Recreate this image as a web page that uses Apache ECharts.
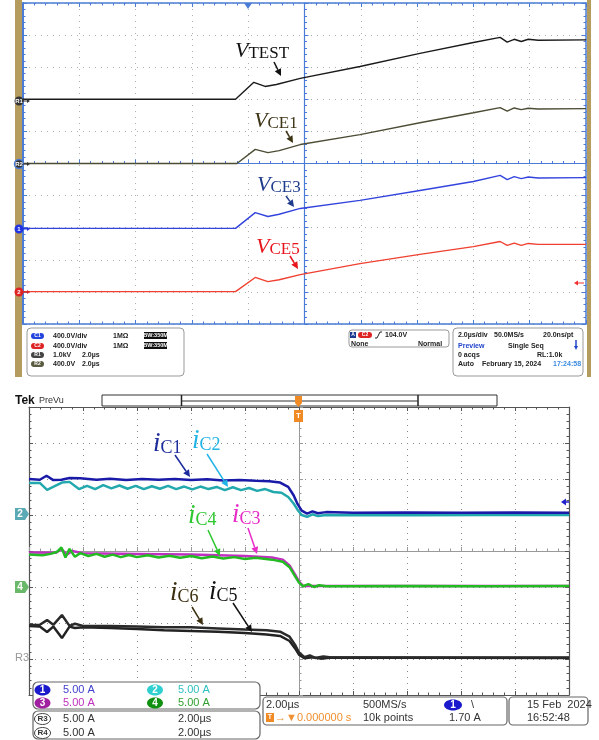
<!DOCTYPE html>
<html>
<head>
<meta charset="utf-8">
<script src="https://cdn.jsdelivr.net/npm/echarts/dist/echarts.min.js"></script>
<style>
  html, body { margin: 0; padding: 0; background: #fff; }
  #main { width: 599px; height: 740px; }
</style>
</head>
<body>
<div id="main"></div>
<script>
// traces: [time in us, position in divisions]
var vTest = [[-10, 2.0], [-6, 2.0], [-2.45, 2.0], [-1.8, 2.53], [-1.4, 2.4], [-1.0, 2.46], [-0.15, 2.65], [1.97, 3.02], [4.1, 3.43], [6.0, 3.77], [6.95, 3.93], [7.2, 3.78], [7.45, 3.87], [7.7, 3.80], [7.95, 3.87], [8.3, 3.84], [10, 3.85]];
var vCE1 = [[-10, 0], [-2.4, 0], [-1.75, 0.44], [-1.3, 0.34], [-0.9, 0.40], [-0.15, 0.59], [1.97, 0.90], [4.1, 1.27], [6.0, 1.58], [6.95, 1.74], [7.2, 1.63], [7.45, 1.73], [7.7, 1.68], [7.95, 1.72], [8.3, 1.70], [10, 1.71]];
var vCE3 = [[-10, -2.02], [-2.45, -2.02], [-1.75, -1.53], [-1.3, -1.65], [-0.9, -1.58], [-0.15, -1.40], [1.97, -1.15], [4.1, -0.84], [6.0, -0.56], [6.95, -0.37], [7.2, -0.50], [7.45, -0.41], [7.7, -0.47], [7.95, -0.42], [8.3, -0.45], [10, -0.44]];
var vCE5 = [[-10, -3.99], [-2.45, -3.99], [-1.75, -3.55], [-1.3, -3.68], [-0.9, -3.62], [-0.15, -3.46], [1.97, -3.12], [4.1, -2.83], [6.0, -2.59], [6.95, -2.43], [7.2, -2.55], [7.45, -2.48], [7.7, -2.55], [7.95, -2.49], [8.3, -2.52], [10, -2.52]];

var iC1 = [[-10, 2.0], [-9.6, 1.98], [-9.35, 2.09], [-9.1, 1.97], [-8.8, 1.98], [-8.5, 2.03], [-8.1, 2.02], [-7.5, 1.98], [-7.0, 2.01], [-6.4, 1.97], [-5.8, 2.0], [-5.2, 1.98], [-4.6, 2.0], [-4.0, 1.97], [-3.4, 1.99], [-2.8, 1.96], [-2.2, 1.97], [-1.6, 1.95], [-1.1, 1.94], [-0.7, 1.90], [-0.4, 1.78], [-0.2, 1.55], [-0.05, 1.30], [0.1, 1.12], [0.3, 1.04], [0.5, 1.10], [0.7, 1.05], [1.0, 1.08], [2.0, 1.06], [4.0, 1.07], [6.0, 1.06], [8.0, 1.07], [10, 1.06]];
var iC2 = [[-10, 1.89], [-9.6, 1.89], [-9.33, 1.70], [-9.05, 1.80], [-8.78, 1.90], [-8.5, 1.92], [-8.15, 1.72], [-7.85, 1.81], [-7.55, 1.72], [-7.25, 1.83], [-6.95, 1.74], [-6.65, 1.82], [-6.35, 1.73], [-6.05, 1.81], [-5.75, 1.72], [-5.45, 1.80], [-5.15, 1.73], [-4.85, 1.81], [-4.55, 1.72], [-4.25, 1.79], [-3.95, 1.71], [-3.65, 1.79], [-3.35, 1.72], [-3.05, 1.78], [-2.75, 1.69], [-2.45, 1.77], [-2.15, 1.69], [-1.85, 1.75], [-1.55, 1.67], [-1.25, 1.72], [-0.95, 1.64], [-0.65, 1.62], [-0.4, 1.50], [-0.2, 1.32], [-0.05, 1.14], [0.1, 1.0], [0.3, 0.95], [0.5, 1.02], [0.7, 0.97], [1.0, 1.0], [4.0, 0.99], [7.0, 1.0], [10, 1.0]];
var iC3 = [[-10, -0.04], [-9.0, -0.05], [-8.8, 0.06], [-8.6, -0.10], [-8.4, 0.0], [-8.0, -0.06], [-6.0, -0.08], [-4.0, -0.10], [-2.0, -0.14], [-1.0, -0.18], [-0.6, -0.24], [-0.35, -0.40], [-0.15, -0.65], [0, -0.85], [0.15, -0.97], [1.0, -0.97], [10, -0.97]];
var iC4 = [[-10, -0.10], [-9.5, -0.12], [-9.2, -0.08], [-8.95, -0.02], [-8.8, 0.10], [-8.65, -0.18], [-8.5, 0.06], [-8.3, -0.16], [-8.1, -0.06], [-7.8, -0.14], [-7.5, -0.08], [-7.2, -0.16], [-6.9, -0.10], [-6.6, -0.17], [-6.3, -0.11], [-6.0, -0.17], [-5.6, -0.12], [-5.2, -0.18], [-4.8, -0.13], [-4.4, -0.19], [-4.0, -0.14], [-3.6, -0.20], [-3.2, -0.15], [-2.8, -0.21], [-2.4, -0.17], [-2.0, -0.22], [-1.6, -0.19], [-1.0, -0.24], [-0.6, -0.30], [-0.35, -0.45], [-0.15, -0.70], [0.0, -0.88], [0.15, -0.98], [0.35, -0.92], [0.55, -1.0], [0.75, -0.95], [1.0, -0.98], [4.0, -0.97], [7.0, -0.98], [10, -0.97]];
var iC5 = [[-10, -2.08], [-9.6, -2.10], [-9.33, -2.25], [-9.1, -2.10], [-8.78, -2.42], [-8.5, -2.10], [-8.3, -2.14], [-8.0, -2.12], [-7.0, -2.14], [-6.0, -2.17], [-5.0, -2.20], [-4.0, -2.22], [-3.0, -2.24], [-2.0, -2.28], [-1.2, -2.32], [-0.7, -2.36], [-0.35, -2.50], [-0.15, -2.70], [0.0, -2.88], [0.2, -2.98], [0.5, -2.95], [0.8, -2.99], [1.2, -2.96], [10, -2.97]];
var iC6 = [[-10, -2.06], [-9.6, -2.05], [-9.33, -1.92], [-9.1, -2.05], [-8.78, -1.78], [-8.5, -2.08], [-8.3, -2.02], [-8.0, -2.08], [-7.0, -2.08], [-6.0, -2.10], [-5.0, -2.12], [-4.0, -2.12], [-3.0, -2.15], [-2.0, -2.18], [-1.2, -2.20], [-0.7, -2.24], [-0.35, -2.38], [-0.15, -2.60], [0.0, -2.82], [0.2, -2.95], [0.4, -2.90], [0.6, -2.97], [0.9, -2.93], [1.2, -2.96], [10, -2.96]];

var BLUE = '#4a7cd6', TEKGRID = '#555';

function ax(gi, min, max, step, pos, color, lw, onZero, dots) {
  return {
    type: 'value', gridIndex: gi, min: min, max: max, interval: step, position: pos,
    axisLine: {show: true, onZero: onZero, lineStyle: {color: color, width: lw}},
    axisTick: {show: true, inside: true, length: 4, lineStyle: {color: color, width: 1}},
    minorTick: {show: true, splitNumber: 5, length: 2.5, lineStyle: {color: color, width: 1}},
    axisLabel: {show: false},
    splitLine: dots ? {show: true, lineStyle: {color: dots, width: 1, type: [1, 5]}} : {show: false}
  };
}

function trace(data, color, w, xi, yi, z) {
  return {type: 'line', data: data, xAxisIndex: xi, yAxisIndex: yi, showSymbol: false, symbol: 'none',
    lineStyle: {color: color, width: w}, z: z || 2, silent: true, animation: false};
}

var g = [];
function T(x, y, s, o) {
  o = o || {};
  g.push({type: 'text', x: x, y: y, z: 110, silent: true,
    style: {text: s, fill: o.c || '#222', font: o.f || 'bold 7px "Liberation Sans"', align: o.a || 'left', verticalAlign: 'middle'}});
}
function R(x, y, w, h, o) {
  o = o || {};
  g.push({type: 'rect', z: o.z || 105, silent: true, shape: {x: x, y: y, width: w, height: h, r: o.r || 0},
    style: {fill: o.fill || 'none', stroke: o.stroke || null, lineWidth: o.lw || 1}});
}
function E(cx, cy, rx, ry, fill, s, o) {
  o = o || {};
  g.push({type: 'ellipse', z: 106, silent: true, shape: {cx: cx, cy: cy, rx: rx, ry: ry},
    style: {fill: fill, stroke: o.stroke || null, lineWidth: o.lw || 1}});
  if (s) T(cx, cy, s, {c: o.tc || '#fff', f: o.f || 'bold 6px "Liberation Sans"', a: 'center'});
}
function arrow(x1, y1, x2, y2, color, w, L, W) {
  L = L || 7; W = W || 3.5;
  var a = Math.atan2(y2 - y1, x2 - x1);
  var bx = x2 - L * Math.cos(a), by = y2 - L * Math.sin(a);
  g.push({type: 'line', z: 108, silent: true, shape: {x1: x1, y1: y1, x2: bx, y2: by}, style: {stroke: color, lineWidth: w || 1.5}});
  g.push({type: 'polygon', z: 108, silent: true, shape: {points: [[x2, y2], [bx + W * Math.sin(a), by - W * Math.cos(a)], [bx - W * Math.sin(a), by + W * Math.cos(a)]]}, style: {fill: color}});
}
function lab(x, y, a, b, color, sa, sb) {
  g.push({type: 'text', x: x, y: y, z: 110, silent: true, style: {
    text: '{a|' + a + '}{b|' + b + '}', verticalAlign: 'bottom', align: 'left',
    rich: {
      a: {font: 'italic ' + sa + 'px "Liberation Serif"', fill: color, verticalAlign: 'bottom'},
      b: {font: sb + 'px "Liberation Serif"', fill: color, verticalAlign: 'bottom'}
    }}});
}

// ---------- top scope frame ----------
R(15, 0, 7, 377, {fill: '#b39c5e', z: 1});
R(587, 0, 4, 377, {fill: '#b39c5e', z: 1});
g.push({type: 'polygon', z: 106, silent: true, shape: {points: [[244, 3], [252, 3], [248, 9]]}, style: {fill: BLUE}});

E(19, 101, 4.5, 4.5, '#333', 'R1');
E(19, 164, 4.5, 4.5, '#333', 'R2', {stroke: BLUE, lw: 1.5});
E(19, 229, 4.5, 4.5, '#2233e0', '1');
E(19, 292, 4.5, 4.5, '#e02222', '2');
arrow(23, 101, 30, 101, '#333', 1, 3, 2);
arrow(23, 164, 30, 164, '#333', 1, 3, 2);
arrow(23, 229, 30, 229, '#2233e0', 1, 3, 2);
arrow(23, 292, 30, 292, '#e02222', 1, 3, 2);
arrow(584, 283, 574, 283, '#f03030', 1, 4, 2.5);

lab(235, 62, 'V', 'TEST', '#111', 22, 17);
arrow(274, 62, 281, 76, '#111', 1.5);
lab(254, 132, 'V', 'CE1', '#3d3416', 22, 17);
arrow(286, 131, 293, 143, '#3d3416', 1.5);
lab(257, 196, 'V', 'CE3', '#1f3c8c', 22, 17);
arrow(286, 196, 294, 207, '#1f3c8c', 1.5);
lab(256, 258, 'V', 'CE5', '#e8141c', 22, 17);
arrow(290, 256, 298, 269, '#e8141c', 1.5);

// info boxes under the top screen
R(27, 328, 157, 48, {r: 4, stroke: '#999', fill: '#fff'});
R(31, 333, 13, 6, {r: 3, fill: '#2244dd', z: 106}); T(37.5, 336, 'C1', {c: '#fff', f: 'bold 5px "Liberation Sans"', a: 'center'});
R(31, 343, 13, 6, {r: 3, fill: '#dd2222', z: 106}); T(37.5, 346, 'C2', {c: '#fff', f: 'bold 5px "Liberation Sans"', a: 'center'});
R(31, 352, 13, 6, {r: 3, fill: '#444', z: 106}); T(37.5, 355, 'R1', {c: '#fff', f: 'bold 5px "Liberation Sans"', a: 'center'});
R(31, 361, 13, 6, {r: 3, fill: '#5a5a40', z: 106}); T(37.5, 364, 'R2', {c: '#fff', f: 'bold 5px "Liberation Sans"', a: 'center'});
T(53, 336, '400.0V/div'); T(113, 336, '1MΩ');
R(144, 332, 23, 7, {fill: '#111', z: 106}); T(155.5, 335.5, 'BW:350M', {c: '#fff', f: 'bold 5.5px "Liberation Sans"', a: 'center'});
T(53, 346, '400.0V/div'); T(113, 346, '1MΩ');
R(144, 342, 23, 7, {fill: '#111', z: 106}); T(155.5, 345.5, 'BW:350M', {c: '#fff', f: 'bold 5.5px "Liberation Sans"', a: 'center'});
T(53, 355, '1.0kV'); T(82, 355, '2.0µs');
T(53, 364, '400.0V'); T(82, 364, '2.0µs');

R(349, 330, 100, 17, {r: 3, stroke: '#999', fill: '#fff'});
R(350, 332, 6, 6, {fill: '#1a3a90', z: 106}); T(353, 335, 'A', {c: '#fff', f: 'bold 5px "Liberation Sans"', a: 'center'});
R(358, 332, 14, 6, {r: 3, fill: '#dd2222', z: 106}); T(365, 335, 'C2', {c: '#fff', f: 'bold 5px "Liberation Sans"', a: 'center'});
g.push({type: 'polyline', z: 108, silent: true, shape: {points: [[375, 338], [377, 338], [380, 332], [382, 332]]}, style: {stroke: '#222', lineWidth: 1}});
T(385, 335, '104.0V'); T(351, 344, 'None'); T(418, 344, 'Normal');

R(453, 328, 130, 48, {r: 4, stroke: '#999', fill: '#fff'});
T(458, 335, '2.0µs/div'); T(494, 335, '50.0MS/s'); T(543, 335, '20.0ns/pt');
T(458, 346, 'Preview', {c: '#2244cc'}); T(508, 346, 'Single Seq');
arrow(576, 340, 576, 350, '#2244cc', 1.5, 4, 2);
T(458, 355, '0 acqs'); T(537, 355, 'RL:1.0k');
T(458, 364, 'Auto'); T(482, 364, 'February 15, 2024'); T(553, 364, '17:24:58', {c: '#3a8ae0'});

// ---------- bottom (Tek) screen ----------
T(15, 401, 'Tek', {c: '#111', f: 'bold 12px "Liberation Sans"'});
T(39, 401, 'PreVu', {c: '#333', f: '9px "Liberation Sans"'});
R(102, 395, 395, 11, {stroke: '#333', fill: '#fff', lw: 1});
g.push({type: 'line', z: 108, silent: true, shape: {x1: 181.5, y1: 395, x2: 181.5, y2: 406}, style: {stroke: '#222', lineWidth: 1.5}});
g.push({type: 'line', z: 108, silent: true, shape: {x1: 418, y1: 395, x2: 418, y2: 406}, style: {stroke: '#222', lineWidth: 1.5}});
g.push({type: 'line', z: 108, silent: true, shape: {x1: 181.5, y1: 401, x2: 418, y2: 401}, style: {stroke: '#333', lineWidth: 1}});
g.push({type: 'polygon', z: 109, silent: true, shape: {points: [[295, 396], [302, 396], [302, 403], [298.5, 407], [295, 403]]}, style: {fill: '#f08a24'}});
R(294, 410, 9, 12, {fill: '#f08a24', z: 109}); T(298.5, 416, 'T', {c: '#fff', f: 'bold 8px "Liberation Sans"', a: 'center'});

g.push({type: 'polygon', z: 106, silent: true, shape: {points: [[15, 508], [25, 508], [29, 514], [25, 520], [15, 520]]}, style: {fill: '#5aaab5'}});
T(20, 514, '2', {c: '#fff', f: 'bold 10px "Liberation Sans"', a: 'center'});
g.push({type: 'polygon', z: 106, silent: true, shape: {points: [[15, 581], [25, 581], [29, 587], [25, 593], [15, 593]]}, style: {fill: '#6ab86a'}});
T(20, 587, '4', {c: '#fff', f: 'bold 10px "Liberation Sans"', a: 'center'});
T(15, 658, 'R3', {c: '#999', f: '11px "Liberation Sans"'});
arrow(569, 502, 561, 502, '#2222cc', 1.5, 5, 3.5);

lab(153, 457, 'i', 'C1', '#1c2c9c', 27, 18);
arrow(175, 455, 190, 477, '#1c2c9c', 1.5);
lab(192, 454, 'i', 'C2', '#22b4e6', 27, 18);
arrow(207, 454, 228, 487, '#22b4e6', 1.5);
lab(188, 529, 'i', 'C4', '#2ec82e', 27, 18);
arrow(208, 530, 220, 556, '#2ec82e', 1.5);
lab(232, 528, 'i', 'C3', '#e82cc8', 27, 18);
arrow(248, 528, 257, 554, '#e82cc8', 1.5);
lab(170, 606, 'i', 'C6', '#3c2f10', 27, 18);
arrow(192, 607, 203, 625, '#3c2f10', 1.5);
lab(209, 605, 'i', 'C5', '#111', 27, 18);
arrow(233, 603, 252, 632, '#111', 1.5);

// readout boxes
var SF = '11px "Liberation Sans"';
R(33, 682, 227, 27, {r: 5, stroke: '#666', fill: '#fff', lw: 1.2});
E(42.5, 690, 8, 5.5, '#1a1acc', '1', {f: 'bold 10px "Liberation Sans"'}); T(63, 690, '5.00 A', {c: '#4040d0', f: SF});
E(155, 690, 8, 5.5, '#30d0d0', '2', {f: 'bold 10px "Liberation Sans"'}); T(178, 690, '5.00 A', {c: '#30c0c0', f: SF});
E(42.5, 703, 8, 5.5, '#a020a0', '3', {f: 'bold 10px "Liberation Sans"'}); T(63, 703, '5.00 A', {c: '#c030c0', f: SF});
E(155, 703, 8, 5.5, '#109010', '4', {f: 'bold 10px "Liberation Sans"'}); T(178, 703, '5.00 A', {c: '#30a030', f: SF});
R(33, 711, 227, 28, {r: 5, stroke: '#666', fill: '#fff', lw: 1.2});
E(42.5, 719, 8, 5.5, '#fff', 'R3', {stroke: '#444', tc: '#333', f: 'bold 8px "Liberation Sans"'});
T(63, 719, '5.00 A', {c: '#333', f: SF}); T(178, 719, '2.00µs', {c: '#333', f: SF});
E(42.5, 733, 8, 5.5, '#fff', 'R4', {stroke: '#444', tc: '#333', f: 'bold 8px "Liberation Sans"'});
T(63, 733, '5.00 A', {c: '#333', f: SF}); T(178, 733, '2.00µs', {c: '#333', f: SF});
R(263, 697, 244, 28, {r: 4, stroke: '#666', fill: '#fff', lw: 1.2});
T(266, 705, '2.00µs', {c: '#333', f: SF}); T(363, 705, '500MS/s', {c: '#333', f: SF});
E(453, 705, 9, 5.5, '#1a1acc', '1', {f: 'bold 10px "Liberation Sans"'}); T(471, 705, '\\', {c: '#333', f: SF});
R(266, 713, 8, 9, {fill: '#f08a24', z: 106}); T(270, 717.5, 'T', {c: '#fff', f: 'bold 7px "Liberation Sans"', a: 'center'});
T(275, 718, '→▼0.000000 s', {c: '#f09030', f: SF});
T(363, 718, '10k points', {c: '#333', f: SF}); T(449, 718, '1.70 A', {c: '#333', f: SF});
R(509, 697, 79, 28, {r: 4, stroke: '#666', fill: '#fff', lw: 1.2});
T(527, 705, '15 Feb  2024', {c: '#333', f: SF}); T(527, 718, '16:52:48', {c: '#333', f: SF});

var chart = echarts.init(document.getElementById('main'));
chart.setOption({
  animation: false,
  backgroundColor: '#fff',
  grid: [
    {left: 23, top: 3, width: 563, height: 321, outerBoundsMode: 'none'},
    {left: 29, top: 407, width: 540, height: 288, outerBoundsMode: 'none'}
  ],
  xAxis: [
    ax(0, -10, 10, 2, 'bottom', BLUE, 1.2, true, null),
    ax(0, -10, 10, 2, 'bottom', BLUE, 1.5, false, '#b0b0b0'),
    ax(0, -10, 10, 2, 'top', BLUE, 1.5, false, null),
    ax(1, -10, 10, 2, 'bottom', '#999', 1, true, null),
    ax(1, -10, 10, 2, 'bottom', TEKGRID, 1.2, false, '#888'),
    ax(1, -10, 10, 2, 'top', TEKGRID, 1.2, false, null)
  ],
  yAxis: [
    ax(0, -5, 5, 1, 'left', BLUE, 1.2, true, null),
    ax(0, -5, 5, 1, 'left', BLUE, 2, false, '#b0b0b0'),
    ax(0, -5, 5, 1, 'right', BLUE, 1.5, false, null),
    ax(1, -4, 4, 1, 'left', '#999', 1, true, null),
    ax(1, -4, 4, 1, 'left', TEKGRID, 1.2, false, '#888'),
    ax(1, -4, 4, 1, 'right', TEKGRID, 1.2, false, null)
  ],
  series: [
    trace(vTest, '#1a1a1a', 1.4, 0, 0),
    trace(vCE1, '#4d4d36', 1.4, 0, 0),
    trace(vCE3, '#3344dd', 1.4, 0, 0),
    trace(vCE5, '#f04030', 1.4, 0, 0),
    trace(iC2, '#23a9ad', 2.5, 3, 3, 3),
    trace(iC1, '#1a1aa8', 2.5, 3, 3, 4),
    trace(iC3, '#c030c0', 2.5, 3, 3, 3),
    trace(iC4, '#22bb22', 2.5, 3, 3, 4),
    trace(iC5, '#222', 2.5, 3, 3, 3),
    trace(iC6, '#2a2a2a', 2.5, 3, 3, 3)
  ],
  graphic: {elements: g}
});
</script>
</body>
</html>
